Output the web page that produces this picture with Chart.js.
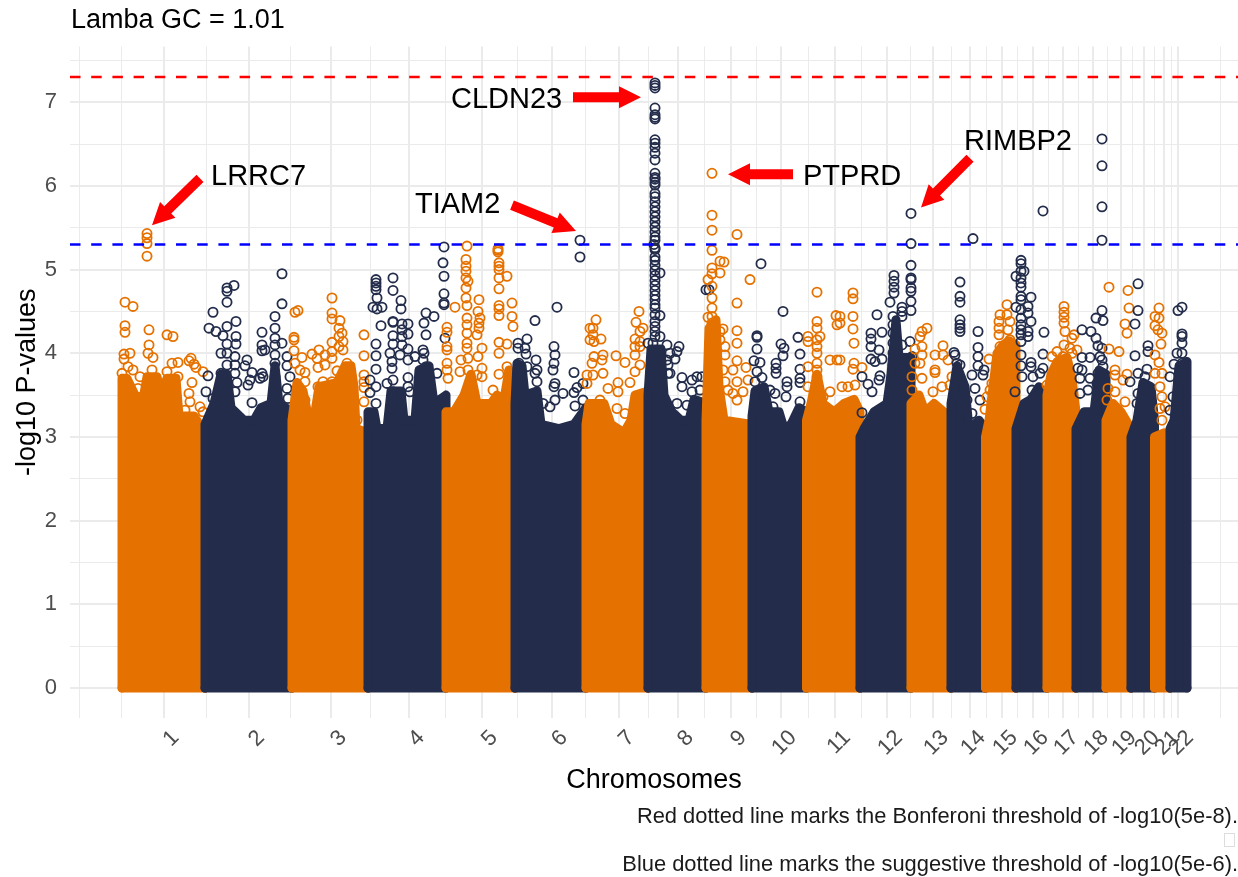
<!DOCTYPE html>
<html lang="en">
<head>
<meta charset="UTF-8">
<title>Manhattan plot</title>
<script src="https://cdn.jsdelivr.net/npm/chart.js"></script>
<style>
    body { margin: 0; background: #fff; font-family: "Liberation Sans", Arial, sans-serif; }
    .wrap { position: relative; width: 1238px; height: 877px; overflow: hidden; }
    canvas { position: absolute; left: 0; top: 0; }
    .title { position: absolute; left: 71px; top: 4px; font-size: 27px; color: #000; white-space: nowrap; }
    .note { position: absolute; right: 0; font-size: 21.9px; color: #1a1a1a; white-space: nowrap; }
    .tofu { position: absolute; left: 1224px; top: 833px; width: 9px; height: 12px; border: 1px solid #ddd; }
</style>
</head>
<body>
<div class="wrap">
    <canvas id="manhattan" width="1238" height="877"></canvas>
    <div class="title">Lamba GC = 1.01</div>
    <div class="note" style="top:803px">Red dotted line marks the Bonferoni threshold of -log10(5e-8).</div>
    <div class="tofu"></div>
    <div class="note" style="top:851px">Blue dotted line marks the suggestive threshold of -log10(5e-6).</div>
</div>
<script>
const chromosomes = ['1','2','3','4','5','6','7','8','9','10','11','12','13','14','15','16','17','18','19','20','21','22'];
const chromCenters = [44.5,130,212,290,363,433,500,559,612,662,716,768,814,851,883,914,944,974,1002,1025,1045,1059];
const extraGridX = [-40,2,1101];
const yTicks = [0,0.5,1,1.5,2,2.5,3,3.5,4,4.5,5,5.5,6,6.5,7,7.5];
const bonferroni = 7.3;
const suggestive = 5.3;

// top edge of the solid block of overlapping points
const chr1Mass = [[3,3.7],[8,3.7],[18,3.45],[24,3.45],[28,3.72],[38,3.72],[42,3.5],[48,3.7],[57,3.7],[60,3.25],[75,3.25],[86,3.05]];
const chr2Mass = [[86,3.15],[95,3.4],[102,3.75],[108,3.75],[112,3.35],[125,3.2],[135,3.2],[142,3.35],[152,3.4],[156,3.85],[160,3.4],[173,3.3]];
const chr3Mass = [[173,3.2],[178,3.65],[184,3.55],[190,3.2],[196,3.3],[200,3.6],[218,3.65],[226,3.85],[232,3.85],[235,3.6],[237,3.1],[249,3.05]];
const chr4Mass = [[249,3.3],[255,3.3],[258,3.1],[268,3.1],[272,3.55],[282,3.55],[285,3.2],[296,3.2],[300,3.8],[310,3.85],[315,3.4],[327,3.5]];
const chr5Mass = [[327,3.3],[335,3.3],[345,3.5],[352,3.75],[358,3.4],[372,3.4],[378,3.5],[385,3.45],[390,3.8],[396,3.75]];
const chr6Mass = [[396,3.4],[398,3.88],[403,3.85],[406,3.5],[418,3.55],[422,3.15],[440,3.1],[455,3.15],[467,3.35]];
const chr7Mass = [[467,3.15],[470,3.4],[485,3.4],[492,3.15],[505,3.05],[512,3.2],[516,3.5],[529,3.55]];
const chr8Mass = [[529,3.5],[532,4.05],[542,4.05],[545,3.5],[553,3.3],[562,3.2],[570,3.2],[575,3.45],[587,3.4]];
const chr9Mass = [[587,3.2],[590,4.3],[597,4.4],[600,3.6],[605,3.2],[633,3.15]];
const chr10Mass = [[633,3.25],[636,3.55],[645,3.6],[650,3.3],[660,3.3],[665,3.1],[672,3.15],[680,3.35],[687.5,3.3]];
const chr11Mass = [[687.5,3.2],[692,3.4],[698,3.75],[704,3.4],[715,3.3],[725,3.4],[735,3.45],[741,3.3]];
const chr12Mass = [[741,3.0],[745,3.1],[755,3.3],[768,3.4],[772,3.75],[777,4.4],[780,3.95],[792,3.95]];
const chr13Mass = [[792,3.4],[800,3.5],[806,3.3],[815,3.4],[825,3.3],[832,3.2]];
const chr14Mass = [[832,3.4],[838,3.85],[846,3.6],[850,3.1],[860,3.2],[866.5,3.1]];
const chr15Mass = [[866.5,3.0],[870,3.2],[873,3.5],[878,4.0],[884,4.1],[890,4.15],[897,4.1]];
const chr16Mass = [[897,3.1],[905,3.4],[912,3.45],[920,3.6],[928,3.4]];
const chr17Mass = [[928,3.5],[932,3.75],[938,3.9],[948,3.95],[953,3.7],[957,3.3]];
const chr18Mass = [[957,3.1],[965,3.3],[975,3.3],[980,3.8],[987,3.75]];
const chr19Mass = [[987,3.2],[994,3.4],[1002,3.3],[1012,3.1]];
const chr20Mass = [[1012,3.0],[1018,3.2],[1024,3.65],[1032,3.6],[1035.5,3.2]];
const chr21Mass = [[1035.5,3.0],[1045,3.05],[1051,3.0]];
const chr22Mass = [[1051,3.1],[1055,3.2],[1060,3.85],[1068,3.9]];

// single visible points above the block
const chr1Points = [[28,5.43],[28,5.38],[28,5.31],[28,5.16],[6,4.61],[14,4.56],[6,4.33],[6,4.25],[30,4.28],[48,4.22],[54,4.2],[30,4.1],[29,4],[34,3.95],[5,3.99],[11,4],[5,3.93],[53,3.88],[59,3.89],[72,3.94],[70,3.91],[75,3.87],[77,3.83],[84,3.78],[73,3.65],[70,3.52],[71,3.42],[81,3.36],[84,3.3],[66,3.32],[19,3.58],[21,3.72],[9,3.84],[14,3.8],[3,3.76],[33,3.8],[48,3.78],[59,3.72],[54,3.6]];
const chr2Points = [[163,4.95],[115,4.81],[108,4.78],[108,4.74],[108,4.61],[163,4.59],[94,4.49],[156,4.44],[117,4.38],[108,4.32],[90,4.3],[97,4.26],[156,4.3],[143,4.25],[104,4.21],[117,4.2],[156,4.18],[163,4.12],[117,4.11],[108,4.11],[143,4.1],[156,4.1],[143,4.03],[146,4.04],[102,4],[108,4],[116,3.96],[156,3.98],[168,3.96],[128,3.92],[108,3.86],[116,3.86],[156,3.88],[126,3.85],[168,3.85],[116,3.76],[133,3.77],[143,3.76],[89,3.73],[102,3.76],[131,3.68],[141,3.7],[144,3.72],[118,3.65],[129,3.62],[156,3.72],[171,3.72],[87,3.54],[116,3.54],[109,3.48],[94,3.46],[133,3.41],[156,3.44],[168,3.58],[169,3.46]];
const chr3Points = [[213,4.66],[176,4.49],[179,4.51],[213,4.48],[213,4.41],[221,4.39],[220,4.3],[223,4.24],[220,4.2],[245,4.22],[175,4.19],[175,4.16],[213,4.13],[224,4.14],[220,4.08],[175,4.03],[200,4.04],[193,3.99],[213,4.02],[224,4.04],[245,3.97],[183,3.95],[206,3.98],[198,3.94],[206,3.86],[199,3.83],[213,3.94],[228,3.88],[176,3.88],[186,3.77],[218,3.79],[228,3.82],[181,3.8],[186,3.66],[204,3.66],[245,3.74],[245,3.66],[245,3.59],[199,3.6],[213,3.66],[186,3.44],[245,3.42],[238,3.2],[181,3.52]];
const chr4Points = [[257,4.88],[257,4.84],[257,4.8],[257,4.76],[274,4.9],[274,4.75],[258,4.66],[282,4.63],[282,4.53],[254,4.55],[258,4.53],[263,4.55],[307,4.48],[315,4.44],[274,4.38],[274,4.37],[283,4.35],[289,4.35],[305,4.36],[262,4.33],[283,4.28],[289,4.23],[307,4.22],[274,4.21],[283,4.2],[274,4.11],[257,4.11],[283,4.1],[289,4.05],[257,3.97],[304,4.04],[305,4],[271,4],[281,3.98],[257,3.81],[289,3.92],[273,3.9],[273,3.82],[296,3.96],[304,3.92],[307,3.84],[307,3.76],[251,3.68],[251,3.53],[257,3.6],[257,3.4],[268,3.64],[289,3.71],[289,3.6],[291,3.54],[326,4.18],[274,3.68],[274,3.54],[318,3.76],[325,5.27],[324,5.08],[325,4.92],[325,4.71],[325,4.6],[325,4.58]];
const chr5Points = [[348,5.28],[347,5.12],[347,5.04],[347,4.98],[347,4.9],[349,4.86],[347,4.78],[347,4.66],[348,4.57],[336,4.55],[360,4.64],[359,4.5],[361,4.42],[360,4.36],[360,4.3],[358,4.22],[348,4.42],[348,4.34],[348,4.24],[348,4.12],[348,4.06],[328,4.31],[328,4.25],[328,4.08],[328,4.04],[328,3.88],[363,4.06],[359,3.96],[349,3.94],[342,3.92],[363,3.82],[341,3.78],[358,3.74],[329,3.7],[349,3.8],[328,3.8],[379,5.25],[379,5.23],[379,5.21],[380,5.08],[380,5.04],[380,5],[380,4.9],[388,4.92],[380,4.77],[393,4.6],[380,4.57],[380,4.53],[380,4.45],[393,4.44],[394,4.32],[380,4.13],[388,4.11],[380,4],[388,3.84],[380,3.75],[374,3.56],[363,3.72]];
const chr6Points = [[461,5.35],[461,5.15],[438,4.55],[416,4.39],[408,4.17],[399,4.12],[399,4.06],[406,4.06],[407,3.99],[435,4.08],[436,3.98],[417,3.92],[435,3.88],[434,3.8],[455,3.77],[408,3.84],[418,3.8],[416,3.76],[436,3.64],[435,3.6],[458,3.59],[444,3.52],[455,3.53],[464,3.64],[436,3.44],[424,3.4],[464,3.44],[456,3.37],[431,3.36],[418,3.66],[400,3.88]];
const chr7Points = [[520,4.5],[477,4.4],[517,4.37],[474,4.3],[471,4.3],[524,4.3],[521,4.26],[474,4.22],[471,4.16],[475,4.14],[482,4.17],[516,4.17],[521,4.14],[516,4.08],[521,4.08],[516,3.98],[497,3.97],[484,3.98],[475,3.96],[506,3.89],[483,3.92],[473,3.88],[516,3.78],[521,3.86],[468,3.74],[484,3.76],[474,3.74],[499,3.65],[499,3.54],[511,3.65],[489,3.58],[468,3.64],[481,3.44],[498,3.34],[506,3.28]];
const chr8Points = [[536,7.23],[536,7.2],[536,7.17],[536,6.93],[536,6.85],[536,6.82],[536,6.8],[536,6.55],[536,6.51],[536,6.46],[536,6.39],[536,6.31],[536,6.15],[536,6.1],[536,6.08],[536,6.04],[536,6.01],[536,5.91],[536,5.87],[536,5.81],[536,5.75],[536,5.69],[536,5.63],[536,5.57],[536,5.51],[536,5.45],[536,5.39],[536,5.35],[535,5.3],[536,5.26],[536,5.15],[536,5.24],[536,5.11],[536,5.05],[536,4.99],[536,4.93],[536,4.87],[536,4.81],[536,4.75],[536,4.69],[536,4.64],[536,4.58],[536,4.54],[536,4.46],[536,4.38],[536,4.32],[536,4.26],[536,4.2],[541,4.96],[541,4.45],[587,4.76],[590,4.76],[529,4.12],[541,4.2],[534,4.12],[548,4.1],[560,4.08],[558,4.02],[551,4],[556,3.93],[541,4],[548,3.92],[549,3.86],[551,3.76],[563,3.71],[563,3.6],[578,3.72],[583,3.72],[573,3.68],[573,3.54],[581,3.56],[536,3.76],[549,3.76],[558,3.4],[568,3.38]];
const chr9Points = [[593,6.15],[593,5.65],[593,5.47],[618,5.42],[593,5.23],[601,5.1],[605,5.09],[593,5.02],[601,4.96],[593,4.95],[589,4.88],[631,4.88],[593,4.8],[593,4.66],[618,4.6],[593,4.54],[589,4.43],[593,4.44],[593,4.36],[604,4.29],[618,4.27],[601,4.26],[618,4.12],[606,4.08],[601,4.16],[606,3.98],[618,3.91],[627,3.83],[614,3.8],[604,3.8],[618,3.66],[629,3.68],[606,3.66],[614,3.52],[624,3.54],[609,3.56],[618,3.44]];
const chr10Points = [[642,5.07],[664,4.5],[638,4.21],[638,4.19],[638,4.05],[662,4.11],[665,4.06],[679,4.19],[664,3.97],[681,3.99],[635,3.91],[641,3.89],[657,3.88],[657,3.82],[638,3.78],[657,3.76],[681,3.81],[681,3.7],[681,3.65],[643,3.71],[636,3.66],[668,3.66],[668,3.6],[651,3.56],[656,3.52],[667,3.48],[681,3.42],[654,3.36]];
const chr11Points = [[698,4.73],[698,4.38],[717,4.45],[718,4.34],[698,4.3],[689,4.2],[689,4.14],[701,4.2],[698,4.16],[698,4.08],[698,4],[711,3.92],[698,3.88],[689,3.84],[698,3.8],[698,3.72],[718,3.92],[689,3.6],[711,3.54],[704,3.48],[734,4.72],[734,4.65],[734,4.44],[734,4.29],[735,4.12],[735,3.88],[734,3.81],[743,3.83],[736,3.62],[723,3.6],[721,4.36],[721,4.44],[721,3.92],[729,3.6]];
const chr12Points = [[775,4.93],[775,4.86],[775,4.79],[775,4.72],[771,4.61],[783,4.55],[783,4.5],[758,4.46],[752,4.24],[752,4.17],[752,4.08],[763,4.25],[760,4.04],[763,3.93],[752,3.93],[756,3.9],[783,4.1],[774,4.24],[774,4.12],[774,4],[774,3.86],[743,3.72],[761,3.73],[760,3.68],[749,3.63],[753,3.54],[743,3.29],[774,4.44],[774,4.34],[783,4.44],[783,3.92],[783,3.82],[792,5.67],[792,5.31],[792,5.05],[792,4.9],[792,4.88],[792,4.78],[792,4.74],[792,4.62],[792,4.51],[791,4.14],[793,3.96]];
const chr13Points = [[808,4.3],[803,4.26],[801,4.2],[803,4.08],[796,4.05],[824,4.09],[803,3.98],[816,3.98],[801,3.88],[796,3.88],[824,3.98],[829,3.92],[816,3.8],[816,3.77],[793,3.72],[803,3.7],[823,3.6],[831,3.62],[793,3.56],[833,3.72],[814,3.54]];
const chr14Points = [[854,5.37],[841,4.85],[841,4.68],[841,4.61],[841,4.4],[841,4.34],[841,4.3],[841,4.26],[859,4.26],[859,4.07],[835,4.01],[859,3.96],[836,3.98],[841,3.86],[859,3.85],[865,3.8],[853,3.74],[864,3.74],[843,3.64],[856,3.58],[861,3.44],[853,3.28],[848,3.44],[838,3.88]];
const chr15Points = [[888,4.58],[881,4.46],[888,4.46],[891,4.38],[880,4.38],[880,4.3],[889,4.28],[880,4.22],[870,3.93],[881,4.08],[891,4.16],[873,3.64],[868,3.48],[866,3.33],[880,3.96],[891,3.92],[871,3.56],[894,3.88]];
const chr16Points = [[924,5.7],[902,5.11],[902,5.07],[902,4.98],[905,4.98],[897,4.92],[902,4.9],[902,4.84],[902,4.79],[902,4.68],[912,4.67],[902,4.64],[897,4.55],[909,4.56],[902,4.52],[909,4.48],[902,4.42],[912,4.38],[902,4.34],[902,4.28],[909,4.26],[909,4.2],[902,4.22],[902,4.14],[925,4.25],[924,3.99],[902,3.98],[912,3.89],[902,3.85],[912,3.84],[924,3.82],[903,3.72],[896,3.54],[914,3.72],[921,3.76],[913,3.56]];
const chr17Points = [[945,4.56],[945,4.49],[945,4.43],[945,4.36],[946,4.26],[955,4.22],[953,4.18],[945,4.1],[951,4.06],[938,4.02],[958,4.04],[933,3.96],[944,3.96],[953,4],[928,3.62]];
const chr18Points = [[983,6.56],[983,6.24],[983,5.75],[983,5.35],[983,4.51],[977,4.42],[984,4.39],[963,4.28],[972,4.26],[977,4.18],[979,4.09],[983,4.06],[963,3.95],[971,3.95],[981,3.96],[959,3.82],[963,3.8],[979,3.76],[971,3.7],[961,3.7],[978,3.64],[969,3.56],[961,3.52],[983,3.92],[984,3.84]];
const chr19Points = [[990,4.79],[990,4.05],[1000,4.02],[996,3.8],[996,3.74],[1008,3.75],[1004,3.68],[989,3.58],[996,3.54],[1006,3.42],[988,3.44],[1009,4.75],[1010,4.54],[1006,4.35],[1008,4.24]];
const chr20Points = [[1019,4.83],[1019,4.51],[1016,4.35],[1029,4.09],[1029,4.02],[1016,3.97],[1028,3.81],[1019,3.76],[1011,3.66],[1026,3.72],[1019,3.52],[1026,3.58],[1018,3.4]];
const chr21Points = [[1040,4.54],[1036,4.44],[1040,4.42],[1036,4.33],[1039,4.28],[1043,4.24],[1042,4.11],[1036,3.98],[1040,3.89],[1036,3.76],[1043,3.76],[1041,3.6],[1043,3.48],[1041,3.34],[1046,3.36],[1043,3.2]];
const chr22Points = [[1063,4.55],[1059,4.51],[1063,4.23],[1063,4.2],[1063,4.12],[1063,4],[1058,4],[1055,3.87],[1063,3.88],[1051,3.72],[1063,3.76],[1054,3.48],[1051,3.32],[1063,3.66],[1063,3.44]];

const massList = [chr1Mass,chr2Mass,chr3Mass,chr4Mass,chr5Mass,chr6Mass,chr7Mass,chr8Mass,chr9Mass,chr10Mass,chr11Mass,chr12Mass,chr13Mass,chr14Mass,chr15Mass,chr16Mass,chr17Mass,chr18Mass,chr19Mass,chr20Mass,chr21Mass,chr22Mass];
const pointList = [chr1Points,chr2Points,chr3Points,chr4Points,chr5Points,chr6Points,chr7Points,chr8Points,chr9Points,chr10Points,chr11Points,chr12Points,chr13Points,chr14Points,chr15Points,chr16Points,chr17Points,chr18Points,chr19Points,chr20Points,chr21Points,chr22Points];

// gene names and their arrows, in the same units as the data
const geneNames = ['LRRC7','CLDN23','TIAM2','PTPRD','RIMBP2'];
const geneLabelAt = [[92,6.1],[332,7.03],[296,5.77],[684,6.11],[845,6.52]];
const arrowFrom = [[81,6.09],[454,7.06],[393,5.77],[674,6.14],[851,6.33]];
const arrowTo = [[33,5.53],[522,7.06],[457,5.46],[609,6.14],[802,5.74]];

const ORANGE = '#E57200';
const NAVY = '#232D4B';
const GRID = '#ebebeb';
const xMin = -49, xMax = 1119, yMin = -0.358, yMax = 7.665;

const toXY = p => ({x: p[0], y: p[1]});
const datasets = [];

chromosomes.forEach((name, i) => {
    const colour = i % 2 === 0 ? ORANGE : NAVY;
    const mass = massList[i];
    const first = mass[0][0], last = mass[mass.length - 1][0];
    // later chromosomes sit on top of earlier ones, lower order draws last
    datasets.push({
        label: 'chr' + name + ' block',
        data: [[first, 0]].concat(mass, [[last, 0]]).map(toXY),
        showLine: true,
        fill: 'origin',
        backgroundColor: colour,
        borderColor: colour,
        borderWidth: 9,
        borderJoinStyle: 'round',
        borderCapStyle: 'round',
        pointRadius: 0,
        order: 30 - i
    });
    datasets.push({
        label: 'chr' + name + ' base',
        data: [[first, 0], [last, 0]].map(toXY),
        showLine: true,
        borderColor: colour,
        borderWidth: 9,
        borderCapStyle: 'round',
        pointRadius: 0,
        order: 30 - i
    });
    datasets.push({
        label: 'chr' + name,
        data: pointList[i].map(toXY),
        pointStyle: 'circle',
        pointRadius: 4.6,
        pointBackgroundColor: 'transparent',
        pointBorderColor: colour,
        pointBorderWidth: 1.8,
        order: 30 - i
    });
});

[[bonferroni, '#ff0000'], [suggestive, '#0000ff']].forEach(t => {
    datasets.push({
        label: 'threshold',
        data: [{x: xMin, y: t[0]}, {x: xMax, y: t[0]}],
        showLine: true,
        borderColor: t[1],
        borderWidth: 2.5,
        borderDash: [10.5, 10.7],
        pointRadius: 0,
        order: 0
    });
});

const gridValues = chromCenters.concat(extraGridX);
for (let i = 0; i < chromCenters.length - 1; i++) {
    gridValues.push((chromCenters[i] + chromCenters[i + 1]) / 2);
}
gridValues.sort((a, b) => a - b);

const geneNotes = {
    id: 'geneNotes',
    afterDraw(chart) {
        const {ctx, scales: {x, y}} = chart;
        ctx.save();
        ctx.fillStyle = '#ff0000';
        arrowFrom.forEach((from, i) => {
            const x0 = x.getPixelForValue(from[0]), y0 = y.getPixelForValue(from[1]);
            const x1 = x.getPixelForValue(arrowTo[i][0]), y1 = y.getPixelForValue(arrowTo[i][1]);
            const len = Math.hypot(x1 - x0, y1 - y0);
            ctx.save();
            ctx.translate(x0, y0);
            ctx.rotate(Math.atan2(y1 - y0, x1 - x0));
            ctx.beginPath();
            ctx.moveTo(0, -5);
            ctx.lineTo(len - 22, -5);
            ctx.lineTo(len - 22, -11);
            ctx.lineTo(len, 0);
            ctx.lineTo(len - 22, 11);
            ctx.lineTo(len - 22, 5);
            ctx.lineTo(0, 5);
            ctx.closePath();
            ctx.fill();
            ctx.restore();
        });
        ctx.fillStyle = '#000';
        ctx.font = '29px "Liberation Sans"';
        ctx.textBaseline = 'middle';
        geneNames.forEach((g, i) => {
            ctx.fillText(g, x.getPixelForValue(geneLabelAt[i][0]), y.getPixelForValue(geneLabelAt[i][1]));
        });
        ctx.restore();
    }
};

new Chart(document.getElementById('manhattan'), {
    type: 'scatter',
    data: {datasets: datasets},
    plugins: [geneNotes],
    options: {
        responsive: false,
        animation: false,
        devicePixelRatio: 1,
        layout: {autoPadding: false, padding: {top: 46.5, right: 0, bottom: 80, left: 0}},
        plugins: {legend: {display: false}, tooltip: {enabled: false}, title: {display: false}},
        scales: {
            x: {
                type: 'linear',
                min: xMin,
                max: xMax,
                afterFit(scale) { scale.height = 79; scale.paddingRight = 0; scale.paddingLeft = 0; },
                afterBuildTicks(scale) { scale.ticks = gridValues.map(v => ({value: v})); },
                border: {display: false},
                grid: {
                    color: GRID,
                    drawTicks: false,
                    lineWidth: ctx => chromCenters.includes(ctx.tick.value) ? 2 : 1
                },
                ticks: {
                    autoSkip: false,
                    maxRotation: 45,
                    minRotation: 45,
                    labelOffset: 12,
                    padding: 7,
                    color: '#4d4d4d',
                    font: {family: '"Liberation Sans"', size: 22},
                    callback(value) {
                        const i = chromCenters.indexOf(value);
                        return i < 0 ? '' : chromosomes[i];
                    }
                },
                title: {
                    display: true,
                    text: 'Chromosomes',
                    color: '#000',
                    font: {family: '"Liberation Sans"', size: 27},
                    padding: {top: 0, bottom: 0}
                }
            },
            y: {
                min: yMin,
                max: yMax,
                afterFit(scale) { scale.width = 70; scale.paddingTop = 0; scale.paddingBottom = 0; },
                afterBuildTicks(scale) { scale.ticks = yTicks.map(v => ({value: v})); },
                border: {display: false},
                grid: {
                    color: GRID,
                    drawTicks: false,
                    lineWidth: ctx => Number.isInteger(ctx.tick.value) ? 2 : 1
                },
                ticks: {
                    autoSkip: false,
                    padding: 13,
                    color: '#4d4d4d',
                    font: {family: '"Liberation Sans"', size: 22},
                    callback: value => Number.isInteger(value) ? String(value) : ''
                },
                title: {
                    display: true,
                    text: '-log10 P-values',
                    color: '#000',
                    font: {family: '"Liberation Sans"', size: 27},
                    padding: {top: 11, bottom: 0}
                }
            }
        }
    }
});
</script>
</body>
</html>
